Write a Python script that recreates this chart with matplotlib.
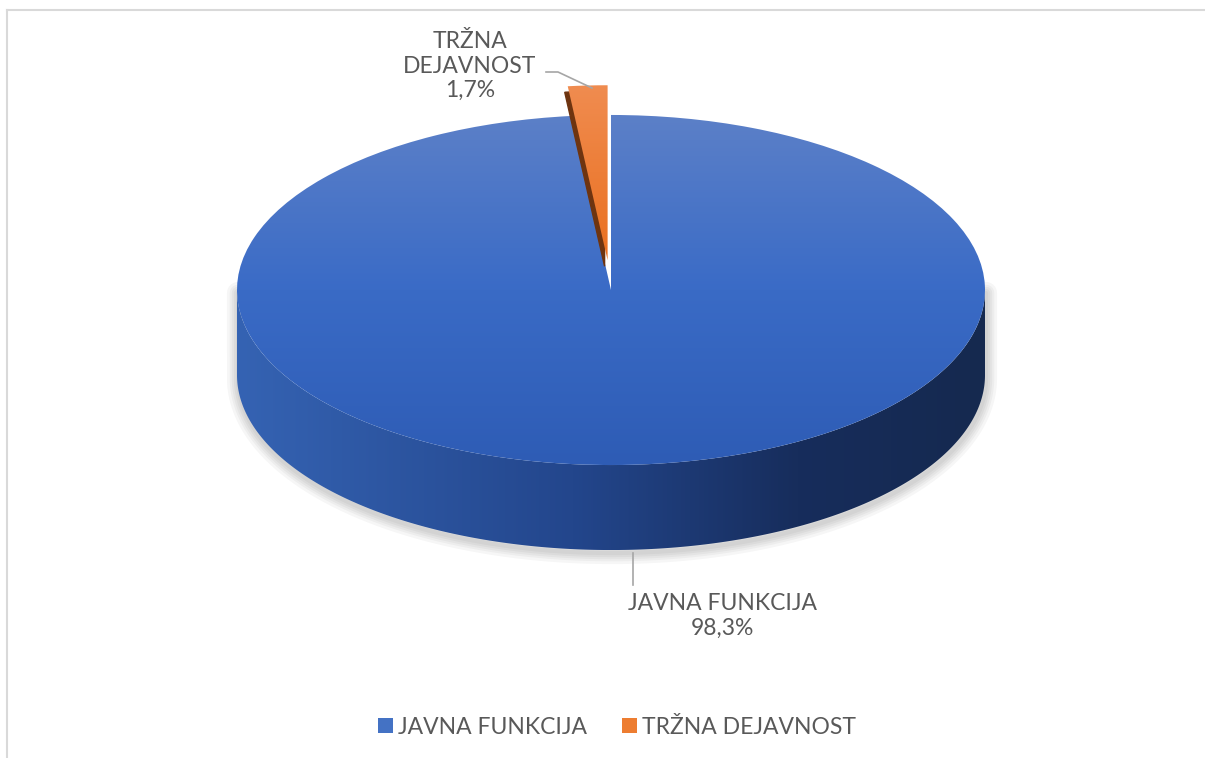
import numpy as np
import matplotlib
matplotlib.use('Agg')
import matplotlib.pyplot as plt
from matplotlib.patches import Polygon, Wedge, Patch
from matplotlib.lines import Line2D
from matplotlib.colors import LinearSegmentedColormap

labels = ['JAVNA FUNKCIJA', 'TRŽNA DEJAVNOST']
shares = [98.3, 1.7]
label_texts = ['JAVNA FUNKCIJA\n98,3%', 'TRŽNA\nDEJAVNOST\n1,7%']

plt.rcParams['font.family'] = ['Lato', 'DejaVu Sans']
txt_color = '#595959'
fsize = 16.5

W, H = 1205, 758
K = 0.468            # vertical squash of the tilted disc
fig = plt.figure(figsize=(W / 100, H / 100), dpi=100)
ax = fig.add_axes([0, 0, 1, 1])

def px(x, y):
    # pixel position -> data units of the squashed axes
    return x, (H - y) / K

cx, cy = px(611, 290)
R = 374
D = 85 / K

# pie offsets are in data units, so scale the explode by the radius
wedges, _ = ax.pie(shares, startangle=90, counterclock=False,
                   explode=[0, 0.17 * R], center=(cx, cy), radius=R,
                   colors=['none', 'none'],
                   wedgeprops=dict(linewidth=0))
blue_w, orange_w = wedges

# soft shadow round the lower rim
th = np.linspace(np.pi, 2 * np.pi, 300)
sx = np.concatenate([[cx - R], cx + R * np.cos(th), [cx + R]])
sy = np.concatenate([[cy], cy - D + R * np.sin(th), [cy]])
for w in [16, 12, 9, 6, 3]:
    ax.plot(sx + 1, sy - 3 / K, color='k', lw=w, alpha=0.035,
            solid_capstyle='round', zorder=1)

# side of the cylinder
side = Polygon(np.column_stack([
    np.concatenate([cx + R * np.cos(th), (cx + R * np.cos(th))[::-1]]),
    np.concatenate([cy + R * np.sin(th), (cy - D + R * np.sin(th))[::-1]])]),
    closed=True, facecolor='none', edgecolor='none')
ax.add_patch(side)
side_cmap = LinearSegmentedColormap.from_list(
    'side', [(0, '#3563b3'), (0.45, '#23468c'), (0.75, '#172d5c'), (1, '#15294f')])
im = ax.imshow(np.linspace(0, 1, 256)[None, :], cmap=side_cmap, aspect='auto',
               extent=[cx - R, cx + R, cy - D - R, cy], origin='lower', zorder=2)
im.set_clip_path(side)

# top face of the blue slice
top_cmap = LinearSegmentedColormap.from_list(
    'top', [(0, '#2e5cb5'), (0.5, '#3a6bc6'), (1, '#5c80c8')])
im = ax.imshow(np.linspace(0, 1, 256)[:, None], cmap=top_cmap, aspect='auto',
               extent=[cx - R, cx + R, cy - R, cy + R], origin='lower', zorder=3)
im.set_clip_path(blue_w)

# cut face seen through the gap
ax.add_patch(Wedge((blue_w.center[0] + 1, blue_w.center[1] - 20 / K), R * 0.78,
                   89.2, 90.0, color='#6b6f78', zorder=2.9))

# orange slice: dark cut face, then top
ow = orange_w
ax.add_patch(Wedge((ow.center[0] - 3, ow.center[1] - 6 / K), ow.r,
                   ow.theta1, ow.theta2, color='#6e3410', zorder=4))
orange_cmap = LinearSegmentedColormap.from_list('or', ['#ea7020', '#f08c50'])
im = ax.imshow(np.linspace(0, 1, 256)[:, None], cmap=orange_cmap, aspect='auto',
               extent=[cx - 60, cx + 20, ow.center[1], ow.center[1] + R],
               origin='lower', zorder=5)
im.set_clip_path(ow)

# data labels with leader lines
lx, ly = px(722, 616)
ax.text(lx, ly, label_texts[0], ha='center', va='center', fontsize=fsize,
        color=txt_color, linespacing=1.2)
lx, ly = px(470, 66)
ax.text(lx, ly, label_texts[1], ha='center', va='center', fontsize=fsize,
        color=txt_color, linespacing=1.2)
p = np.array([px(633, 553), px(633, 585)])
ax.plot(p[:, 0], p[:, 1], color='#a6a6a6', lw=1.2, zorder=6)
p = np.array([px(546, 72), px(558, 72), px(592, 88)])
ax.plot(p[:, 0], p[:, 1], color='#a6a6a6', lw=1.2, zorder=6)

ax.set_xlim(0, W)
ax.set_ylim(0, H / K)
ax.set_aspect('auto')
ax.axis('off')

# legend
handles = [Patch(facecolor='#4472c4', edgecolor='none'),
           Patch(facecolor='#ed7d31', edgecolor='none')]
fig.legend(handles, labels, loc='center', bbox_to_anchor=(0.512, 1 - 727 / H),
           ncol=2, frameon=False, fontsize=fsize, labelcolor=txt_color,
           handlelength=0.65, handleheight=0.65, handletextpad=0.25,
           columnspacing=1.5)

# chart border (top and left only visible)
fig.add_artist(Line2D([6.5 / W, 6.5 / W], [0, 1 - 10 / H], transform=fig.transFigure,
                      color='#d9d9d9', lw=1.5))
fig.add_artist(Line2D([6.5 / W, 1], [1 - 10 / H, 1 - 10 / H], transform=fig.transFigure,
                      color='#d9d9d9', lw=1.5))

fig.savefig('out.png', dpi=100, facecolor='white')
